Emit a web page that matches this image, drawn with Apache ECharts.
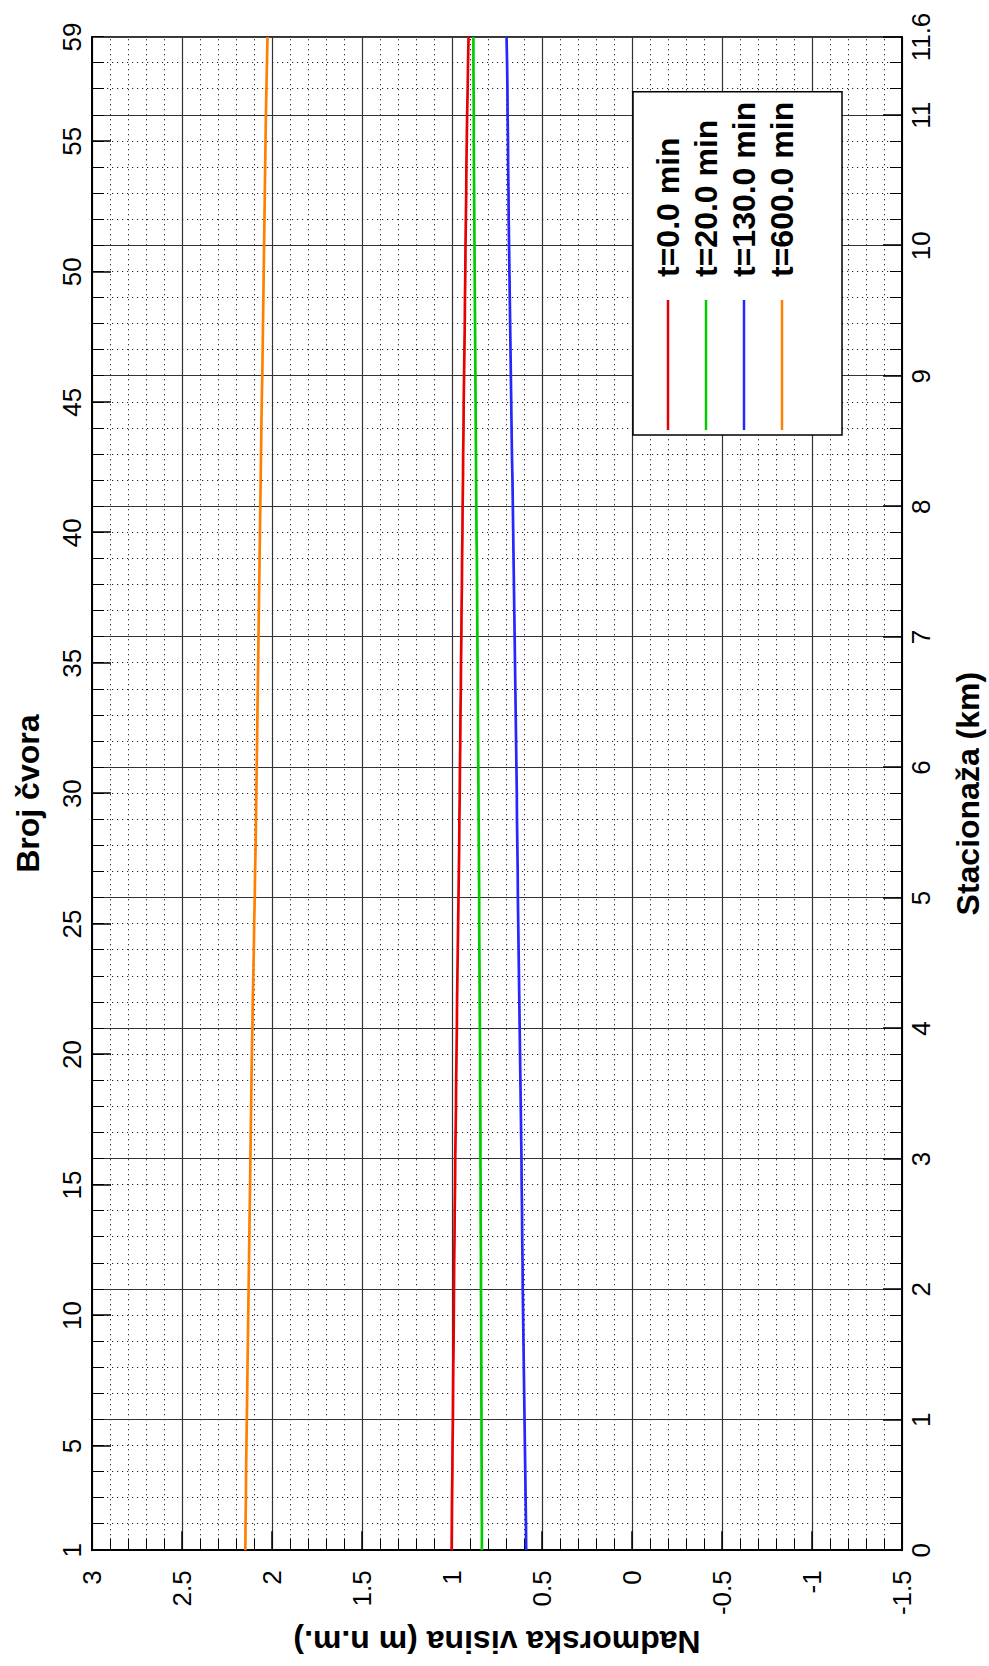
<!DOCTYPE html>
<html><head><meta charset="utf-8">
<script src="https://cdn.jsdelivr.net/npm/echarts@6/dist/echarts.min.js"></script>
<style>
html,body{margin:0;padding:0;background:#fff;width:989px;height:1666px;overflow:hidden;}
#chart{position:absolute;left:0;top:0;width:1666px;height:989px;transform-origin:0 0;transform:translateY(1666px) rotate(-90deg);}
</style></head><body><div id="chart"></div>
<script>
// node numbers (Broj čvora)
const nodes = [1,2,3,4,5,6,7,8,9,10,11,12,13,14,15,16,17,18,19,20,21,22,23,24,25,26,27,28,29,30,31,32,33,34,35,36,37,38,39,40,41,42,43,44,45,46,47,48,49,50,51,52,53,54,55,56,57,58,59];
const nodeLabels = [1,5,10,15,20,25,30,35,40,45,50,55,59];
const nodeMajorTicks = [5,10,15,20,25,30,35,40,45,50,55];
const kmLabels = [0,1,2,3,4,5,6,7,8,9,10,11,11.6];
const seriesNames = ['t=0.0 min','t=20.0 min','t=130.0 min','t=600.0 min'];
const seriesColors = ['#e60000','#00cc00','#2626ff','#ff8000'];
// water level (m n.m.) at each node
const h0 = [1.002,1.001,1.000,0.998,0.997,0.995,0.994,0.993,0.991,0.990,
 0.989,0.988,0.986,0.985,0.983,0.982,0.980,0.978,0.977,0.975,
 0.973,0.972,0.970,0.968,0.966,0.964,0.962,0.960,0.959,0.957,
 0.956,0.954,0.953,0.951,0.950,0.948,0.947,0.945,0.944,0.942,
 0.941,0.939,0.938,0.936,0.935,0.933,0.931,0.929,0.928,0.926,
 0.925,0.923,0.921,0.920,0.918,0.916,0.913,0.911,0.908];
const h20 = [0.834,0.834,0.835,0.835,0.836,0.836,0.837,0.837,0.838,0.838,
 0.839,0.839,0.840,0.841,0.841,0.842,0.842,0.843,0.844,0.844,
 0.845,0.846,0.847,0.848,0.849,0.849,0.850,0.851,0.852,0.853,
 0.854,0.855,0.856,0.857,0.858,0.859,0.860,0.861,0.862,0.864,
 0.865,0.866,0.867,0.868,0.869,0.870,0.871,0.872,0.873,0.874,
 0.875,0.876,0.877,0.878,0.879,0.879,0.880,0.881,0.881];
const h130 = [0.588,0.589,0.591,0.593,0.595,0.597,0.599,0.601,0.603,0.605,
 0.607,0.608,0.610,0.611,0.613,0.614,0.616,0.618,0.620,0.622,
 0.624,0.626,0.628,0.630,0.632,0.634,0.635,0.637,0.639,0.640,
 0.642,0.644,0.646,0.648,0.650,0.652,0.654,0.656,0.658,0.660,
 0.662,0.664,0.667,0.669,0.671,0.673,0.675,0.677,0.679,0.681,
 0.683,0.685,0.686,0.688,0.689,0.691,0.692,0.694,0.697];
const h600 = [2.148,2.147,2.145,2.144,2.142,2.140,2.138,2.136,2.134,2.132,
 2.130,2.128,2.126,2.124,2.122,2.120,2.118,2.116,2.114,2.112,
 2.109,2.107,2.104,2.101,2.099,2.096,2.094,2.091,2.089,2.087,
 2.085,2.083,2.081,2.079,2.077,2.075,2.073,2.071,2.069,2.067,
 2.065,2.063,2.061,2.059,2.057,2.054,2.052,2.050,2.048,2.046,
 2.044,2.042,2.040,2.038,2.036,2.034,2.031,2.028,2.025];
const seriesData = [h0,h20,h130,h600];

const FONT = 'Liberation Sans, Arial, Helvetica, sans-serif';
const tickFont = {color:'#000', fontSize:26, fontFamily:FONT};
const nameFont = {color:'#000', fontSize:32, fontWeight:'bold', fontFamily:FONT};
const dotted = {color:'#222', width:1, type:[1.2,3.8]};
const major = {color:'#333', width:1.2};

const chart = echarts.init(document.getElementById('chart'), null, {renderer:'svg'});
chart.setOption({
  animation:false,
  backgroundColor:'#fff',
  grid:{left:108, right:37, top:92, bottom:87, show:true, borderColor:'#000', borderWidth:1.5, backgroundColor:'transparent'},
  legend:{
    orient:'vertical', left:1231, top:633,
    padding:[19,10,44,5], itemGap:6, itemWidth:130, itemHeight:2.5, icon:'rect',
    backgroundColor:'#fff', borderColor:'#000', borderWidth:1.5,
    textStyle:Object.assign({}, nameFont, {padding:[0,0,0,18]}),
    data:seriesNames
  },
  xAxis:[
    {type:'value', position:'bottom', min:0, max:11.6, interval:1,
     axisLine:{show:true, onZero:false, lineStyle:{color:'#000', width:2}},
     axisTick:{show:true, inside:true, length:19, lineStyle:{color:'#000', width:1.5}},
     minorTick:{show:true, splitNumber:5, length:12, lineStyle:{color:'#000', width:1}},
     splitLine:{show:true, lineStyle:major},
     minorSplitLine:{show:true, lineStyle:dotted},
     axisLabel:Object.assign({customValues:kmLabels, margin:6}, tickFont),
     name:'Stacionaža (km)', nameLocation:'middle', nameGap:50, nameTextStyle:nameFont},
    {type:'category', position:'top', data:nodes.map(String), boundaryGap:false,
     axisLine:{show:true, onZero:false, lineStyle:{color:'#000', width:2}},
     axisTick:{show:true, inside:true, interval:0, length:12, lineStyle:{color:'#000', width:1}},
     axisLabel:{show:false}, splitLine:{show:false}},
    {type:'category', position:'top', data:nodes.map(String), boundaryGap:false,
     axisLine:{show:false, onZero:false},
     axisTick:{show:true, inside:true, interval:function(i,v){return nodeMajorTicks.indexOf(+v) >= 0;}, length:19, lineStyle:{color:'#000', width:1.5}},
     axisLabel:Object.assign({show:true, margin:7, interval:function(i,v){return nodeLabels.indexOf(+v) >= 0;}}, tickFont),
     splitLine:{show:false},
     name:'Broj čvora', nameLocation:'middle', nameGap:48, nameTextStyle:nameFont}
  ],
  yAxis:[
    {type:'value', position:'left', min:-1.5, max:3, interval:0.5,
     axisLine:{show:true, onZero:false, lineStyle:{color:'#000', width:2}},
     axisTick:{show:true, inside:true, length:19, lineStyle:{color:'#000', width:1.5}},
     minorTick:{show:true, splitNumber:5, length:12, lineStyle:{color:'#000', width:1}},
     splitLine:{show:true, lineStyle:major},
     minorSplitLine:{show:true, lineStyle:dotted},
     axisLabel:Object.assign({margin:20}, tickFont),
     name:'Nadmorska visina (m n.m.)', nameLocation:'middle', nameGap:62, nameRotate:90, nameTextStyle:nameFont}
  ],
  series: seriesNames.map(function(name, k){
    return {name:name, type:'line', xAxisIndex:1, yAxisIndex:0, data:seriesData[k],
      symbol:'none', showSymbol:false, z:5,
      itemStyle:{color:seriesColors[k]},
      lineStyle:{color:seriesColors[k], width:2.7}};
  })
});
</script></body></html>
